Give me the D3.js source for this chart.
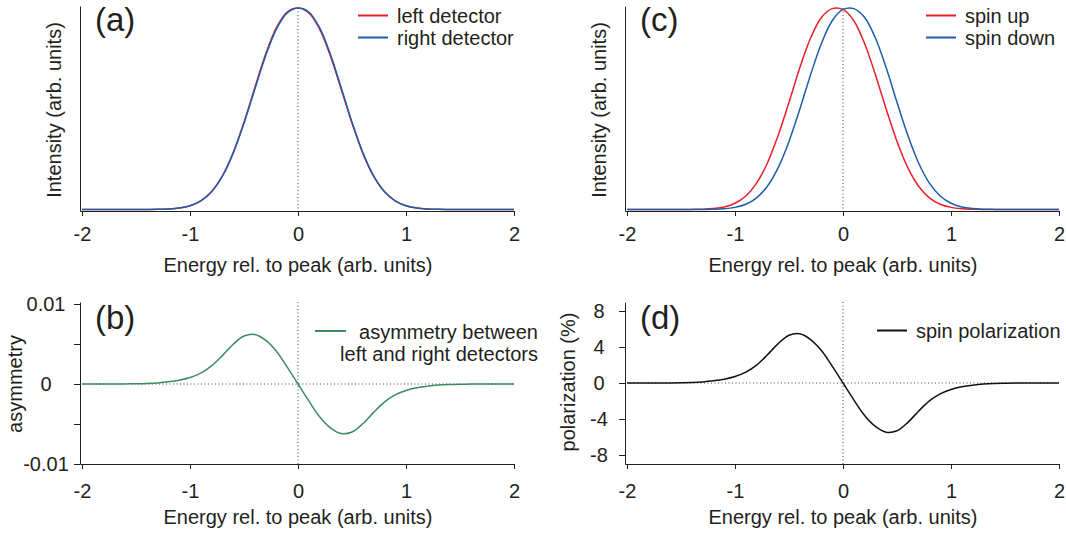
<!DOCTYPE html>
<html>
<head>
<meta charset="utf-8">
<script src="https://cdn.jsdelivr.net/npm/d3@7"></script>
<style>
  body { margin: 0; background: #fff; }
  svg text { font-family: "Liberation Sans", Arial, Helvetica, sans-serif; fill: #231f20; }
  .axis path, .axis line { stroke: #231f20; stroke-width: 1; }
  .axis text { font-size: 20px; }
</style>
</head>
<body>
<div id="chart"></div>
<script>
// Energy grid (rel. to peak, arb. units)
var energy = [-2.0, -1.9, -1.8, -1.7, -1.6, -1.5, -1.4, -1.3, -1.2, -1.1, -1.0, -0.9, -0.8, -0.7, -0.6, -0.5, -0.4, -0.3, -0.2, -0.1,
    0.0, 0.1, 0.2, 0.3, 0.4, 0.5, 0.6, 0.7, 0.8, 0.9, 1.0, 1.1, 1.2, 1.3, 1.4, 1.5, 1.6, 1.7, 1.8, 1.9, 2.0];

// (a) intensities, normalised
var leftDetector = [0, 0, 0, 0, 0, 0.0001, 0.0003, 0.0007, 0.0024, 0.0070, 0.0183, 0.0427, 0.0890, 0.1666, 0.2824, 0.4336, 0.6047, 0.7702, 0.9027, 0.9801,
    1.0, 0.9759, 0.8953, 0.7618, 0.5973, 0.4284, 0.2796, 0.1654, 0.0886, 0.0425, 0.0183, 0.0070, 0.0024, 0.0007, 0.0003, 0.0001, 0, 0, 0, 0, 0];
var rightDetector = [0, 0, 0, 0, 0, 0.0001, 0.0003, 0.0007, 0.0024, 0.0070, 0.0183, 0.0425, 0.0886, 0.1654, 0.2796, 0.4284, 0.5973, 0.7618, 0.8953, 0.9759,
    1.0, 0.9801, 0.9027, 0.7702, 0.6047, 0.4336, 0.2824, 0.1666, 0.0890, 0.0427, 0.0183, 0.0070, 0.0024, 0.0007, 0.0003, 0.0001, 0, 0, 0, 0, 0];

// (b) asymmetry between detectors
var asymmetry = [0, 0, 0, 0, 0.00001, 0.00003, 0.00007, 0.00014, 0.00027, 0.00048, 0.00082, 0.00137, 0.00226, 0.00355, 0.00497, 0.00600, 0.00620, 0.00548, 0.00410, 0.00212,
    0, -0.00212, -0.00410, -0.00548, -0.00620, -0.00600, -0.00497, -0.00355, -0.00226, -0.00137, -0.00082, -0.00048, -0.00027, -0.00014, -0.00007, -0.00003, -0.00001, 0, 0, 0, 0];

// (c) spin resolved intensities
var spinUp = [0, 0, 0, 0, 0, 0.0002, 0.0005, 0.0015, 0.0047, 0.0126, 0.0308, 0.0670, 0.1310, 0.2310, 0.3680, 0.5320, 0.7030, 0.8510, 0.9530, 0.9970,
    0.9930, 0.9370, 0.8240, 0.6690, 0.4980, 0.3380, 0.2080, 0.1156, 0.0579, 0.0260, 0.0105, 0.0037, 0.0012, 0.0004, 0.0001, 0, 0, 0, 0, 0, 0];
var spinDown = [0, 0, 0, 0, 0, 0, 0.0001, 0.0004, 0.0012, 0.0037, 0.0105, 0.0260, 0.0579, 0.1156, 0.2080, 0.3380, 0.4980, 0.6690, 0.8240, 0.9370,
    0.9930, 0.9970, 0.9530, 0.8510, 0.7030, 0.5320, 0.3680, 0.2310, 0.1310, 0.0670, 0.0308, 0.0126, 0.0047, 0.0015, 0.0005, 0.0002, 0, 0, 0, 0, 0];

// (d) spin polarization in %
var polarization = [0, 0, 0, 0, 0.01, 0.03, 0.06, 0.12, 0.24, 0.42, 0.72, 1.21, 1.99, 3.13, 4.38, 5.30, 5.47, 4.83, 3.61, 1.87,
    0, -1.87, -3.61, -4.83, -5.47, -5.30, -4.38, -3.13, -1.99, -1.21, -0.72, -0.42, -0.24, -0.12, -0.06, -0.03, -0.01, 0, 0, 0, 0];

// tick values
var xTicks = [-2, -1, 0, 1, 2];
var asymTicks = [-0.01, -0.005, 0, 0.005, 0.01];
var asymLabels = ["-0.01", "", "0", "", "0.01"];
var polTicks = [-8, -4, 0, 4, 8];

var red = "#e8202a", blue = "#1a5fab", green = "#3e8b62", black = "#111";

var svg = d3.select("#chart").append("svg")
    .attr("width", 1066)
    .attr("height", 534);

// column / row geometry
var colX = [80, 625];
var topRow = {top: 6, bottom: 211};
var botRow = {top: 302, bottom: 464};

function xScale(axisX) {
    return d3.scaleLinear().domain([-2.0185, 2]).range([axisX, axisX + 434]);
}

var yTop = d3.scaleLinear().domain([-0.0075, 1.01]).range([topRow.bottom, topRow.top]);
var yAsym = d3.scaleLinear().domain([-0.01, 0.01025]).range([botRow.bottom, botRow.top]);
var yPol = d3.scaleLinear().domain([-9, 9]).range([botRow.bottom, botRow.top]);

function drawXAxis(x, yPos, pad) {
    svg.append("g")
        .attr("class", "axis")
        .attr("transform", "translate(0," + yPos + ")")
        .call(d3.axisBottom(x).tickValues(xTicks).tickSize(5).tickSizeOuter(0).tickPadding(pad)
            .tickFormat(function(d) { return String(d); }));
}

function drawXTitle(x, yPos) {
    svg.append("text")
        .attr("x", x(0))
        .attr("y", yPos)
        .attr("text-anchor", "middle")
        .style("font-size", "20px")
        .text("Energy rel. to peak (arb. units)");
}

function drawYTitle(xPos, yPos, label) {
    svg.append("text")
        .attr("transform", "translate(" + xPos + "," + yPos + ") rotate(-90)")
        .attr("text-anchor", "middle")
        .style("font-size", "20px")
        .text(label);
}

function drawCurve(x, y, values, color) {
    var line = d3.line()
        .x(function(d, i) { return x(energy[i]); })
        .y(function(d) { return y(d); })
        .curve(d3.curveCatmullRom.alpha(0.5));
    svg.append("path")
        .datum(values)
        .attr("fill", "none")
        .attr("stroke", color)
        .attr("stroke-width", 1.5)
        .attr("d", line);
}

function dotted(x1, y1, x2, y2) {
    svg.append("line")
        .attr("x1", x1).attr("y1", y1)
        .attr("x2", x2).attr("y2", y2)
        .attr("stroke", "#444")
        .attr("stroke-width", 1)
        .attr("stroke-dasharray", "1,2.5");
}

function panelLabel(xPos, yPos, txt) {
    svg.append("text")
        .attr("x", xPos)
        .attr("y", yPos)
        .style("font-size", "33px")
        .text(txt);
}

function legendItem(x1, yLine, color, txt) {
    svg.append("line")
        .attr("x1", x1).attr("x2", x1 + 30)
        .attr("y1", yLine).attr("y2", yLine)
        .attr("stroke", color)
        .attr("stroke-width", 2);
    svg.append("text")
        .attr("x", x1 + 39)
        .attr("y", yLine + 7.5)
        .style("font-size", "20px")
        .text(txt);
}

// ---------- top panels (a) and (c) ----------
[0, 1].forEach(function(c) {
    var x = xScale(colX[c]);
    svg.append("g")
        .attr("class", "axis")
        .attr("transform", "translate(" + colX[c] + ",0)")
        .call(d3.axisLeft(yTop).tickValues([]).tickSizeOuter(0));
    drawXAxis(x, topRow.bottom, 11);
    drawXTitle(x, 272);
    drawYTitle(colX[c] - 19, 110, "Intensity (arb. units)");
    dotted(x(0), yTop(1), x(0), topRow.bottom);
});

var xa = xScale(colX[0]);
drawCurve(xa, yTop, leftDetector, red);
drawCurve(xa, yTop, rightDetector, blue);
panelLabel(95, 31, "(a)");
legendItem(358, 15.5, red, "left detector");
legendItem(358, 37.5, blue, "right detector");

var xc = xScale(colX[1]);
drawCurve(xc, yTop, spinUp, red);
drawCurve(xc, yTop, spinDown, blue);
panelLabel(640, 31, "(c)");
legendItem(926, 15.5, red, "spin up");
legendItem(926, 37.5, blue, "spin down");

// ---------- bottom panels (b) and (d) ----------
var xb = xScale(colX[0]);
svg.append("g")
    .attr("class", "axis")
    .attr("transform", "translate(" + colX[0] + ",0)")
    .call(d3.axisLeft(yAsym).tickValues(asymTicks).tickSize(6).tickSizeOuter(0)
        .tickFormat(function(d, i) { return asymLabels[i]; }))
    .selectAll("text")
    .attr("text-anchor", "middle")
    .attr("x", -34);
drawXAxis(xb, botRow.bottom, 15);
drawXTitle(xb, 524);
drawYTitle(22, 384, "asymmetry");
dotted(xb(0), botRow.top, xb(0), botRow.bottom);
dotted(xb(-2), yAsym(0), xb(2), yAsym(0));
drawCurve(xb, yAsym, asymmetry, green);
panelLabel(95, 329, "(b)");

svg.append("line")
    .attr("x1", 315).attr("x2", 346)
    .attr("y1", 331).attr("y2", 331)
    .attr("stroke", green)
    .attr("stroke-width", 2);
svg.append("text")
    .attr("x", 538).attr("y", 339)
    .attr("text-anchor", "end")
    .style("font-size", "20px")
    .text("asymmetry between");
svg.append("text")
    .attr("x", 538).attr("y", 361)
    .attr("text-anchor", "end")
    .style("font-size", "20px")
    .text("left and right detectors");

var xd = xScale(colX[1]);
svg.append("g")
    .attr("class", "axis")
    .attr("transform", "translate(" + colX[1] + ",0)")
    .call(d3.axisLeft(yPol).tickValues(polTicks).tickSize(6).tickSizeOuter(0)
        .tickFormat(function(d) { return String(d); }))
    .selectAll("text")
    .attr("text-anchor", "middle")
    .attr("x", -26);
drawXAxis(xd, botRow.bottom, 15);
drawXTitle(xd, 524);
drawYTitle(575, 382, "polarization (%)");
dotted(xd(0), botRow.top, xd(0), botRow.bottom);
dotted(xd(-2), yPol(0), xd(2), yPol(0));
drawCurve(xd, yPol, polarization, black);
panelLabel(640, 329, "(d)");
legendItem(877, 330.5, black, "spin polarization");
</script>
</body>
</html>
